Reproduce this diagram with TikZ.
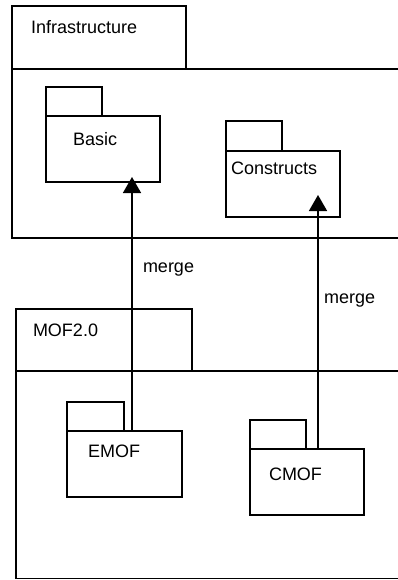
\documentclass[tikz,border=0pt]{standalone}
\usepackage{fontspec}
\setmainfont{Liberation Sans}
\usetikzlibrary{arrows.meta}
\begin{document}
\begin{tikzpicture}[x=1pt,y=-1pt,
  box/.style={draw=black, line width=1.5pt, rectangle, inner sep=0pt, outer sep=0pt, anchor=north west},
  lbl/.style={inner sep=0pt, outer sep=0pt, anchor=base west, font=\fontsize{18}{21}\selectfont},
  mergearrow/.style={draw=black, line width=1.5pt, -{Triangle[length=16pt,width=18pt]}}]
\useasboundingbox (0,0) rectangle (398,580);
\clip (0,0) rectangle (398,580);
% Infrastructure
\node[box, minimum width=174pt, minimum height=63pt] (inftab) at (12,6) {};
\node[box, minimum width=398pt, minimum height=169pt] (infbody) at (12,69) {};
\node[lbl] (inflbl) at (31,33.3) {Infrastructure};
% Basic
\node[box, minimum width=114pt, minimum height=66pt] (basic) at (46,116) {};
\node[box, minimum width=56pt, minimum height=29pt] (basictab) at (46,87) {};
\node[lbl] (basiclbl) at (73,146) {Basic};
% Constructs
\node[box, minimum width=114pt, minimum height=66pt] (constructs) at (226,151) {};
\node[box, minimum width=56pt, minimum height=30pt] (constab) at (226,121) {};
\node[lbl] (conslbl) at (231,175) {Constructs};
% MOF2.0
\node[box, minimum width=176pt, minimum height=62pt] (moftab) at (16,309) {};
\node[box, minimum width=394pt, minimum height=207.5pt] (mofbody) at (16,371) {};
\node[lbl] (moflbl) at (33,336) {MOF2.0};
% EMOF
\node[box, minimum width=115pt, minimum height=66pt] (emof) at (67,431) {};
\node[box, minimum width=57pt, minimum height=29pt] (emoftab) at (67,402) {};
\node[lbl] (emoflbl) at (88,457.7) {EMOF};
% CMOF
\node[box, minimum width=114pt, minimum height=66pt] (cmof) at (250,449) {};
\node[box, minimum width=56pt, minimum height=29pt] (cmoftab) at (250,420) {};
\node[lbl] (cmoflbl) at (269,480) {CMOF};
% merge arrows
\coordinate (a1s) at (132,431);
\coordinate (a1e) at (132,177);
\coordinate (a2s) at (318,449);
\coordinate (a2e) at (318,195);
\draw[mergearrow] (a1s) -- (a1e);
\draw[mergearrow] (a2s) -- (a2e);
\node[lbl] (m1) at (143,272.3) {merge};
\node[lbl] (m2) at (324,303) {merge};
\end{tikzpicture}
\end{document}
